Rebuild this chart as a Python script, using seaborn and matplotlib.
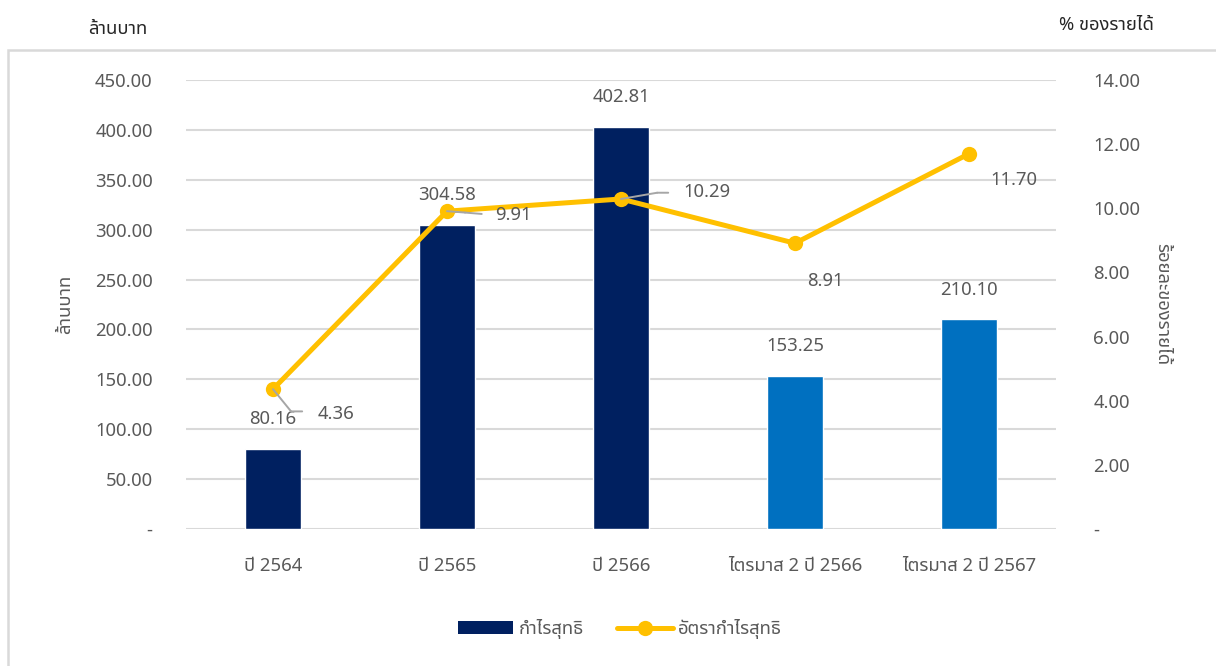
import numpy as np
import pandas as pd
import matplotlib
matplotlib.use("Agg")
import matplotlib.pyplot as plt
from matplotlib import font_manager
from matplotlib.patches import Patch, Rectangle
from matplotlib.lines import Line2D
from matplotlib.transforms import offset_copy
import seaborn as sns

# ---------------- data ----------------
categories = ["ปี 2564", "ปี 2565", "ปี 2566", "ไตรมาส 2 ปี 2566", "ไตรมาส 2 ปี 2567"]
net_profit = [80.16, 304.58, 402.81, 153.25, 210.10]
profit_margin = [4.36, 9.91, 10.29, 8.91, 11.70]
left_ticks = [0, 50, 100, 150, 200, 250, 300, 350, 400, 450]
right_ticks = [0, 2, 4, 6, 8, 10, 12, 14]
bar_series_name = "กำไรสุทธิ"
line_series_name = "อัตรากำไรสุทธิ"
left_unit = "ล้านบาท"
right_unit = "% ของรายได้"
left_axis_title = "ล้านบาท"
right_axis_title = "ร้อยละของรายได้"

# ---------------- font ----------------
def find_thai_font():
    try:
        from fontTools.ttLib import TTFont
    except Exception:
        return None
    found = []
    for f in font_manager.fontManager.ttflist:
        try:
            tt = TTFont(f.fname, fontNumber=0, lazy=True)
            cmap = tt.getBestCmap()
            if cmap and 0x0E01 in cmap and 0x0E49 in cmap and 0x0030 in cmap:
                found.append(f.name)
        except Exception:
            pass
    pref = ["Leelawadee UI", "Leelawadee", "Tahoma", "Noto Sans Thai UI", "Noto Sans Thai",
            "Sarabun", "Loma", "Garuda", "Kinnari", "Norasi", "Waree", "Umpush"]
    for p in pref:
        if p in found:
            return p
    return found[0] if found else None

sns.set_theme(style="white")
thai = find_thai_font()
fams = ([thai] if thai else []) + ["DejaVu Sans"]
plt.rcParams["font.family"] = fams

FS = 13.3
text_gray = "#595959"
grid_gray = "#D9D9D9"
navy = "#002060"
blue = "#0070C0"
gold = "#FFC000"
leader_gray = "#A6A6A6"

fig = plt.figure(figsize=(12.16, 6.66), dpi=100)
W, H = 1216, 666
ax = fig.add_axes([186 / W, 1 - 529 / H, 870 / W, 449 / H])

df = pd.DataFrame({"cat": categories, "val": net_profit})
bar_colors = [navy, navy, navy, blue, blue]
sns.barplot(data=df, x="cat", y="val", hue="cat", palette=bar_colors, legend=False,
            width=0.32, ax=ax, saturation=1, zorder=3)

ax.set_ylim(0, 450)
ax.set_yticks(left_ticks)
ax.set_yticklabels(["-" if v == 0 else f"{v:.2f}" for v in left_ticks])
ax.set_xlim(-0.5, len(categories) - 0.5)
ax.grid(axis="y", color=grid_gray, linewidth=1.5, zorder=0)
ax.set_axisbelow(True)
for s in ["top", "left", "right", "bottom"]:
    ax.spines[s].set_visible(False)
ax.tick_params(axis="y", length=0, pad=24, labelsize=FS, labelcolor=text_gray)
ax.tick_params(axis="x", length=0, pad=20, labelsize=FS, labelcolor=text_gray)
ax.set_xlabel("")
ax.set_ylabel(left_axis_title, fontsize=FS, color=text_gray, labelpad=15)

# bar labels
for i, v in enumerate(net_profit):
    ax.annotate(f"{v:.2f}", (i, v), xytext=(0, 21.5), textcoords="offset points",
                ha="center", va="center", fontsize=FS, color=text_gray, zorder=6)

# line on secondary axis
ax2 = ax.twinx()
ax2.set_position(ax.get_position())
sns.lineplot(x=np.arange(len(categories)), y=profit_margin, ax=ax2, color=gold,
             linewidth=3.6, marker="o", markersize=11, markeredgewidth=0, zorder=5)
ax2.set_ylim(0, 14)
ax2.set_yticks(right_ticks)
ax2.set_yticklabels(["-" if v == 0 else f"{v:.2f}" for v in right_ticks])
for s in ["top", "left", "right", "bottom"]:
    ax2.spines[s].set_visible(False)
ax2.tick_params(axis="y", length=0, pad=27, labelsize=FS, labelcolor=text_gray)
ax2.set_ylabel(right_axis_title, fontsize=FS, color=text_gray, rotation=270,
               labelpad=9, va="bottom")
ax2.grid(False)

# line labels (offsets in points)
line_offsets = [(45, -18), (48, -3), (62, 5), (22, -27), (32, -19)]
for i, v in enumerate(profit_margin):
    dx, dy = line_offsets[i]
    ax2.annotate(f"{v:.2f}", (i, v), xytext=(dx, dy), textcoords="offset points",
                 ha="center", va="center", fontsize=FS, color=text_gray, zorder=7)

# leader lines (two segments each, offsets in points from the data point)
leaders = {0: [(0, 0), (13, -16), (21, -16)],
           1: [(0, 0), (13, -1), (25, -2)],
           2: [(0, 0), (26, 4.5), (34, 4.5)]}
for i, pts in leaders.items():
    v = profit_margin[i]
    for (x0, y0), (x1, y1) in zip(pts[:-1], pts[1:]):
        tr = offset_copy(ax2.transData, fig=fig, x=x0, y=y0, units="points")
        ax2.annotate("", xy=(i, v), xycoords=tr, xytext=(x1 - x0, y1 - y0),
                     textcoords="offset points", zorder=8,
                     arrowprops=dict(arrowstyle="-", color=leader_gray, lw=1.4,
                                     shrinkA=0, shrinkB=0))

# legend
handles = [Patch(facecolor=navy, edgecolor="none", label=bar_series_name),
           Line2D([0], [0], color=gold, lw=3.6, marker="o", markersize=11,
                  markeredgewidth=0, label=line_series_name)]
fig.legend(handles=handles, loc="center", bbox_to_anchor=(620 / W, 1 - 629 / H), ncol=2,
           frameon=False, fontsize=FS, labelcolor=text_gray, handlelength=3.0,
           columnspacing=1.8, handletextpad=0.3)

# unit labels at top
fig.text(118 / W, 1 - 29 / H, left_unit, ha="center", va="center", fontsize=FS, color="#262626")
fig.text(1106 / W, 1 - 25 / H, right_unit, ha="center", va="center", fontsize=FS, color="#262626")

# chart-area border
fig.patches.append(Rectangle((8 / W, -0.05), 1.1, 1 - 50 / H + 0.05, transform=fig.transFigure,
                             fill=False, edgecolor=grid_gray, linewidth=1.8))

fig.savefig("out.png", dpi=100)
